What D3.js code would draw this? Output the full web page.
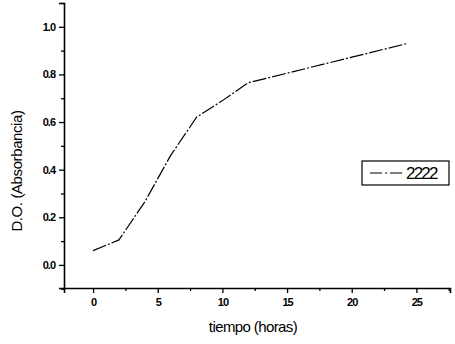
<!DOCTYPE html>
<html>
<head>
<meta charset="utf-8">
<script src="https://cdn.jsdelivr.net/npm/d3@7"></script>
<style>
  body { margin: 0; background: #fff; }
  text { font-family: "Liberation Sans", Arial, sans-serif; fill: #000; }
</style>
</head>
<body>
<svg width="455" height="344"></svg>
<script>
// growth curve
var horas = [0, 2, 4, 6, 8, 10, 12, 24.3];
var absorbancia = [0.06, 0.105, 0.265, 0.46, 0.62, 0.69, 0.765, 0.93];
var xTicks = [0, 5, 10, 15, 20, 25];
var yTicks = [0.0, 0.2, 0.4, 0.6, 0.8, 1.0];
var serie = "2222";

var svg = d3.select("svg");

var x = d3.scaleLinear().domain([-2.25, 27.6]).range([64, 450]);
var y = d3.scaleLinear().domain([-0.097, 1.1]).range([288, 3]);

// axes
svg.append("g")
    .attr("transform", "translate(0,288)")
    .call(d3.axisBottom(x).tickValues(xTicks).tickSize(5).tickPadding(5).tickFormat(d3.format("d")));
svg.append("g")
    .attr("transform", "translate(0,288)")
    .call(d3.axisBottom(x).tickValues(d3.range(-2.5, 28, 2.5).filter(function(d) { return d % 5 !== 0 && d > -2.25; })).tickSize(3).tickFormat(""))
    .select(".domain").remove();

svg.append("g")
    .attr("transform", "translate(64,0)")
    .call(d3.axisLeft(y).tickValues(yTicks).tickSize(5).tickPadding(4).tickFormat(d3.format(".1f")));
svg.append("g")
    .attr("transform", "translate(64,0)")
    .call(d3.axisLeft(y).tickValues(d3.range(-0.1, 1.11, 0.1).filter(function(d) { return Math.abs(Math.round(d * 10) % 2) === 1; })).tickSize(3).tickFormat(""))
    .select(".domain").remove();

svg.selectAll(".domain").attr("stroke", "#000").attr("stroke-width", 1.6);
svg.selectAll(".tick line").attr("stroke", "#000").attr("stroke-width", 1.3);
svg.selectAll(".tick text")
    .style("font-size", "11px")
    .style("font-weight", "bold")
    .style("letter-spacing", "-1px");

// axis titles
svg.append("text")
    .attr("x", 253)
    .attr("y", 332)
    .attr("text-anchor", "middle")
    .style("font-size", "15px")
    .style("letter-spacing", "-0.6px")
    .text("tiempo (horas)");

svg.append("text")
    .attr("transform", "translate(22,171) rotate(-90)")
    .attr("text-anchor", "middle")
    .style("font-size", "15px")
    .style("letter-spacing", "-0.4px")
    .text("D.O. (Absorbancia)");

// the curve
var line = d3.line()
    .x(function(d, i) { return x(horas[i]); })
    .y(function(d) { return y(d); });

svg.append("path")
    .datum(absorbancia)
    .attr("fill", "none")
    .attr("stroke", "#000")
    .attr("stroke-width", 1.2)
    .attr("stroke-dasharray", "14,2,2,2")
    .attr("d", line);

// legend
var leg = svg.append("g").attr("transform", "translate(362,161)");
leg.append("rect")
    .attr("width", 87).attr("height", 24)
    .attr("fill", "#fff").attr("stroke", "#000").attr("stroke-width", 1.2);
leg.append("line")
    .attr("x1", 8).attr("x2", 43).attr("y1", 12).attr("y2", 12)
    .attr("stroke", "#000").attr("stroke-width", 1.2)
    .attr("stroke-dasharray", "12,3,2,3");
leg.append("text")
    .attr("x", 44).attr("y", 18)
    .style("font-size", "17px")
    .style("letter-spacing", "-1.8px")
    .text(serie);
</script>
</body>
</html>
